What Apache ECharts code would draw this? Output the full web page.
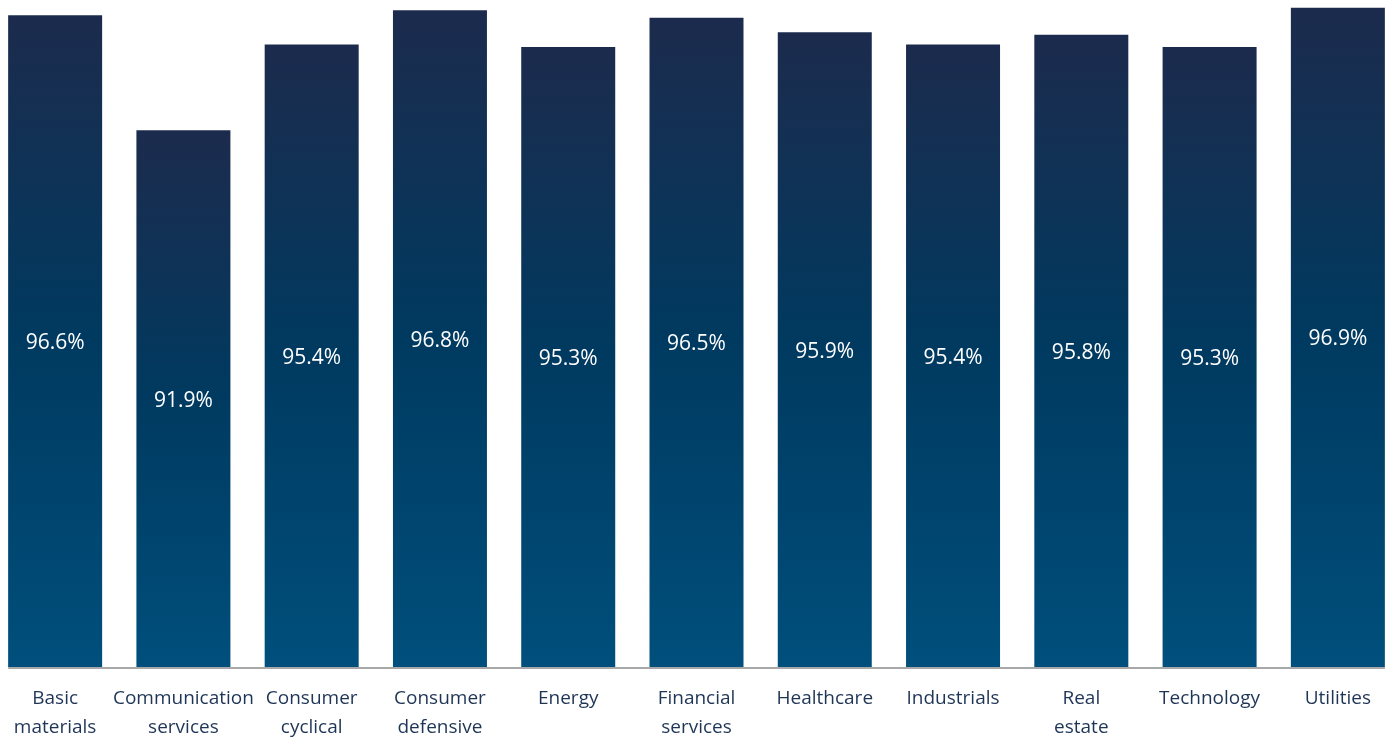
<!DOCTYPE html>
<html>
<head>
<meta charset="utf-8">
<script src="https://cdn.jsdelivr.net/npm/echarts@6/dist/echarts.min.js"></script>
<style>
  html, body { margin: 0; padding: 0; background: #ffffff; overflow: hidden; }
  /* the category bands run slightly past both window edges */
  #chart { width: 1411px; height: 740px; margin-left: -9px; }
</style>
</head>
<body>
<div id="chart"></div>
<script>
// Sector labels (two-line where they wrap) and share values in percent
const categories = [
  'Basic\nmaterials', 'Communication\nservices', 'Consumer\ncyclical', 'Consumer\ndefensive',
  'Energy', 'Financial\nservices', 'Healthcare', 'Industrials',
  'Real\nestate', 'Technology', 'Utilities'
];
const values = [96.6, 91.9, 95.4, 96.8, 95.3, 96.5, 95.9, 95.4, 95.8, 95.3, 96.9];

const FONT = '"Open Sans", Lato, sans-serif';
const BAR_WIDTH = 94;

const chart = echarts.init(document.getElementById('chart'), null, { renderer: 'canvas' });

chart.setOption({
  animation: false,
  backgroundColor: '#ffffff',
  grid: { left: 0, right: 0, top: 0, bottom: 73, containLabel: false, outerBoundsMode: 'none' },
  xAxis: {
    type: 'category',
    data: categories,
    axisLine: { show: false },
    axisTick: { show: false },
    axisLabel: {
      interval: 0,
      margin: 17,
      color: '#1f3556',
      fontFamily: FONT,
      fontSize: 19,
      lineHeight: 29
    }
  },
  yAxis: {
    type: 'value',
    min: 70,
    max: 97.22,
    show: false,
    splitLine: { show: false }
  },
  series: [{
    type: 'bar',
    data: values,
    barWidth: BAR_WIDTH,
    itemStyle: {
      color: new echarts.graphic.LinearGradient(0, 0, 0, 1, [
        { offset: 0, color: '#1c2b4d' },
        { offset: 0.5, color: '#003a60' },
        { offset: 1, color: '#004f7c' }
      ])
    },
    label: {
      show: true,
      position: 'inside',
      offset: [0, 2],
      color: '#ffffff',
      fontFamily: FONT,
      fontSize: 21,
      formatter: p => p.value.toFixed(1) + '%'
    }
  }]
});

// Baseline runs from the left edge of the first bar to the right edge of the last
const first = chart.convertToPixel({ seriesIndex: 0 }, [0, 70]);
const last = chart.convertToPixel({ seriesIndex: 0 }, [categories.length - 1, 70]);
chart.setOption({
  graphic: [{
    type: 'line',
    shape: {
      x1: first[0] - BAR_WIDTH / 2, y1: first[1] + 1,
      x2: last[0] + BAR_WIDTH / 2, y2: last[1] + 1
    },
    style: { stroke: '#a8a8a8', lineWidth: 2 },
    z: 10
  }]
});
</script>
</body>
</html>
